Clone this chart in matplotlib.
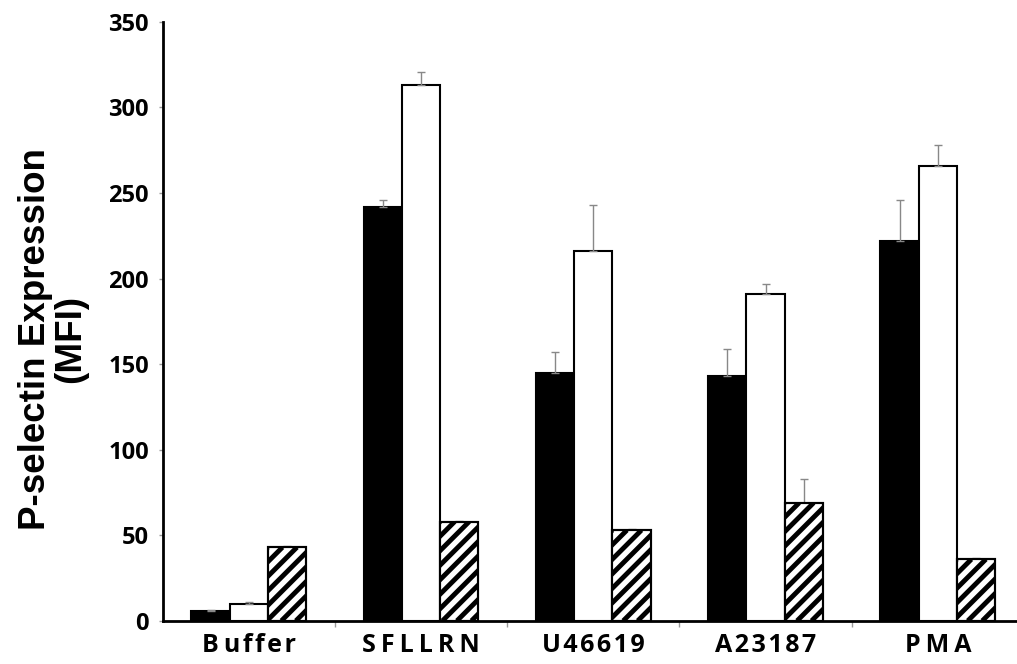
import numpy as np
import matplotlib.pyplot as plt
from matplotlib.collections import LineCollection
from matplotlib.transforms import IdentityTransform

groups = ['Buffer', 'SFLLRN', 'U46619', 'A23187', 'PMA']
# letter-spaced tick labels as they appear in the original
tick_labels = ['B\u2009u\u200af\u200af\u200ae\u200ar', 'S\u2009F\u2009L\u2009L\u2009R\u2009N',
               'U\u200a4\u200a6\u200a6\u200a1\u200a9', 'A\u200a2\u200a3\u200a1\u200a8\u200a7',
               'P\u2009M\u2009A']
black_vals = [6, 242, 145, 143, 222]
black_err = [0.5, 4, 12, 16, 24]
white_vals = [10, 313, 216, 191, 266]
white_err = [1, 8, 27, 6, 12]
hatch_vals = [43, 58, 53, 69, 36]
hatch_err = [1, 0.5, 0.5, 14, 1]

fig = plt.figure(figsize=(10.17, 6.64), dpi=100)
ax = fig.add_axes([0.160, 0.065, 0.84, 0.902])
ax.set_xlim(-0.5, 4.46)
ax.set_ylim(0, 350)

x = np.arange(len(groups))
w = 0.222
ekw = dict(ecolor='#888888', elinewidth=1, capsize=3, capthick=1)

ax.bar(x - w, black_vals, w, color='black', edgecolor='black', linewidth=1.5)
ax.errorbar(x - w, black_vals, yerr=[np.zeros(5), black_err], fmt='none', zorder=1, **ekw)
ax.bar(x, white_vals, w, color='white', edgecolor='black', linewidth=1.5)
ax.errorbar(x, white_vals, yerr=[np.zeros(5), white_err], fmt='none', zorder=1, **ekw)
hbars = ax.bar(x + w, hatch_vals, w, color='white', edgecolor='black', linewidth=1.5, zorder=2)
ax.errorbar(x + w, hatch_vals, yerr=[np.zeros(5), hatch_err], fmt='none', zorder=1, **ekw)

# wide diagonal stripes, drawn in pixel space and clipped to each bar
step = 14.5
for p in hbars:
    (x0, y0), (x1, y1) = ax.transData.transform([[p.get_x(), 0], [p.get_x() + p.get_width(), p.get_height()]])
    h = y1 - y0
    segs = [[(x0 + c, y0), (x0 + c + h, y1)] for c in np.arange(-h, x1 - x0 + step, step)]
    lc = LineCollection(segs, colors='black', linewidths=3.5, transform=IdentityTransform(), zorder=2.5)
    ax.add_collection(lc)
    lc.set_clip_path(p)
    ax.bar(p.get_x() + p.get_width() / 2, p.get_height(), p.get_width(), fill=False,
           edgecolor='black', linewidth=1.5, zorder=3)

ax.set_yticks(range(0, 351, 50))
ax.tick_params(axis='y', length=3, width=1, color='#999999', pad=7, labelsize=17)
ax.set_xticks(x)
ax.set_xticklabels(tick_labels)
ax.set_xticks(np.arange(0.5, 4.5, 1), minor=True)
ax.tick_params(axis='x', which='major', length=0, pad=9, labelsize=18)
ax.tick_params(axis='x', which='minor', length=4, width=1, color='#999999')
for lab in ax.get_xticklabels() + ax.get_yticklabels():
    lab.set_family(['Open Sans', 'DejaVu Sans'])
    lab.set_fontweight('bold')

ax.spines['top'].set_visible(False)
ax.spines['right'].set_visible(False)
ax.spines['left'].set_linewidth(2)
ax.spines['bottom'].set_linewidth(2)
ax.spines['bottom'].set_zorder(4)

ax.set_ylabel('P-selectin Expression\n(MFI)', family='Liberation Sans', fontweight='bold',
              fontsize=26.5, linespacing=1.0)
ax.yaxis.set_label_coords(-0.087, 0.47)

fig.savefig('out.png', dpi=100)
